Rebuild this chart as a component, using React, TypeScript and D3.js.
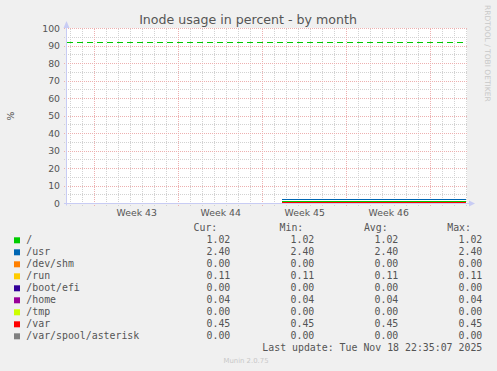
import { useEffect, useRef } from "react";
import * as d3 from "d3";

// legend / series
const seriesNames = [
  "/",
  "/usr",
  "/dev/shm",
  "/run",
  "/boot/efi",
  "/home",
  "/tmp",
  "/var",
  "/var/spool/asterisk",
];
const seriesColors = [
  "#00CC00",
  "#0066B3",
  "#FF8000",
  "#FFCC00",
  "#330099",
  "#990099",
  "#CCFF00",
  "#FF0000",
  "#808080",
];
const curValues = [1.02, 2.4, 0.0, 0.11, 0.0, 0.04, 0.0, 0.45, 0.0];
const minValues = [1.02, 2.4, 0.0, 0.11, 0.0, 0.04, 0.0, 0.45, 0.0];
const avgValues = [1.02, 2.4, 0.0, 0.11, 0.0, 0.04, 0.0, 0.45, 0.0];
const maxValues = [1.02, 2.4, 0.0, 0.11, 0.0, 0.04, 0.0, 0.45, 0.0];

// samples: data only exists from early November on (value stays flat)
const sampleTimes = ["2025-11-04T14:36:00Z", "2025-11-19T22:36:00Z"];

const warningLevel = 92;
const yTicks = [0, 10, 20, 30, 40, 50, 60, 70, 80, 90, 100];
const yMinorTicks = [5, 15, 25, 35, 45, 55, 65, 75, 85, 95];

// graph window (one month view, 400px)
const graphEnd = "2025-11-20T00:36:00Z";
const graphHours = 800;

const title = "Inode usage in percent - by month";
const lastUpdate = "Last update: Tue Nov 18 22:35:07 2025";

const App = () => {
  const svgRef = useRef<SVGSVGElement>(null);

  useEffect(() => {
    if (!svgRef.current) return;
    const width = 497;
    const height = 371;
    const left = 67;
    const right = 467;
    const top = 28.5;
    const bottom = 203.5;
    const textColor = "#555";
    const sans = "'DejaVu Sans', sans-serif";
    const mono = "'DejaVu Sans Mono', monospace";

    const svg = d3.select(svgRef.current);
    svg.selectAll("*").remove();
    svg.attr("width", width).attr("height", height);

    const end = new Date(graphEnd);
    const start = new Date(end.getTime() - graphHours * 3600 * 1000);

    const x = d3.scaleUtc().domain([start, end]).range([left, right]);
    const y = d3.scaleLinear().domain([0, 100]).range([bottom, top]);
    const px = (v: number) => Math.floor(v) + 0.5;

    svg.append("rect").attr("width", width).attr("height", height).attr("fill", "#F0F0F0");
    svg
      .append("rect")
      .attr("x", left)
      .attr("y", 28)
      .attr("width", right - left)
      .attr("height", 175)
      .attr("fill", "#FFFFFF");

    const grid = svg
      .append("g")
      .attr("stroke-dasharray", "1,1")
      .attr("stroke-width", 1)
      .attr("shape-rendering", "crispEdges");

    // minor grid
    const days = d3.utcDay.range(d3.utcDay.ceil(start), end);
    grid
      .selectAll("line.vmin")
      .data(days)
      .join("line")
      .attr("x1", (d) => px(x(d)))
      .attr("x2", (d) => px(x(d)))
      .attr("y1", top)
      .attr("y2", bottom + 2)
      .attr("stroke", "#D2D2D2");
    grid
      .selectAll("line.hmin")
      .data(yMinorTicks)
      .join("line")
      .attr("x1", left - 3)
      .attr("x2", right + 1)
      .attr("y1", (d) => px(y(d)))
      .attr("y2", (d) => px(y(d)))
      .attr("stroke", "#D2D2D2");

    // major grid
    const weeks = d3.utcMonday.range(d3.utcMonday.ceil(start), end);
    grid
      .selectAll("line.vmaj")
      .data(weeks)
      .join("line")
      .attr("x1", (d) => px(x(d)))
      .attr("x2", (d) => px(x(d)))
      .attr("y1", top)
      .attr("y2", bottom + 3)
      .attr("stroke", "#EDB0B0");
    grid
      .selectAll("line.hmaj")
      .data(yTicks)
      .join("line")
      .attr("x1", left - 3)
      .attr("x2", right + 1)
      .attr("y1", (d) => px(y(d)))
      .attr("y2", (d) => px(y(d)))
      .attr("stroke", "#EDB0B0");

    // y labels
    svg
      .append("g")
      .selectAll("text")
      .data(yTicks)
      .join("text")
      .attr("x", 60)
      .attr("y", (d) => y(d) + 3.3)
      .attr("text-anchor", "end")
      .style("font", `9.3px ${sans}`)
      .attr("fill", textColor)
      .text((d) => d);

    // week labels (centred in each week)
    const weekMids = d3.utcMonday
      .range(d3.utcMonday.floor(start), end)
      .map((d) => new Date(d.getTime() + 3.5 * 86400000))
      .filter((d) => d > start && d < end);
    const fmt = d3.utcFormat("Week %V");
    svg
      .append("g")
      .selectAll("text")
      .data(weekMids)
      .join("text")
      .attr("x", (d) => x(d))
      .attr("y", 215.6)
      .attr("text-anchor", "middle")
      .style("font", `9.3px ${sans}`)
      .attr("fill", textColor)
      .text((d) => fmt(d));

    // warning line
    svg
      .append("line")
      .attr("x1", left)
      .attr("x2", right)
      .attr("y1", px(y(warningLevel)))
      .attr("y2", px(y(warningLevel)))
      .attr("stroke", "#00CC00")
      .attr("stroke-width", 1.2)
      .attr("stroke-dasharray", "6,4");

    // series lines
    const line = d3
      .line<{ t: Date; v: number }>()
      .x((d) => x(d.t))
      .y((d) => px(y(d.v)));
    seriesNames.forEach((name, i) => {
      const pts = sampleTimes.map((t) => ({ t: new Date(t), v: curValues[i] }));
      svg
        .append("path")
        .datum(pts)
        .attr("d", line)
        .attr("fill", "none")
        .attr("stroke", seriesColors[i])
        .attr("stroke-width", 1.2)
        .attr("shape-rendering", "crispEdges");
    });

    // axes
    const axisColor = "#C8CCF4";
    svg
      .append("line")
      .attr("x1", 66.5)
      .attr("x2", 66.5)
      .attr("y1", 24)
      .attr("y2", bottom + 2)
      .attr("stroke", axisColor);
    svg
      .append("line")
      .attr("x1", left - 3)
      .attr("x2", right + 3)
      .attr("y1", bottom)
      .attr("y2", bottom)
      .attr("stroke", axisColor);
    svg.append("path").attr("d", "M63.5,28 L66.5,21 L69.5,28 Z").attr("fill", axisColor);
    svg
      .append("path")
      .attr("d", `M${right + 2},200.5 L${right + 8},203.5 L${right + 2},206.5 Z`)
      .attr("fill", axisColor);

    // title
    svg
      .append("text")
      .attr("x", 248)
      .attr("y", 24)
      .attr("text-anchor", "middle")
      .style("font", `12.6px ${sans}`)
      .attr("fill", textColor)
      .text(title);

    svg
      .append("text")
      .attr("transform", "translate(14,116) rotate(-90)")
      .attr("text-anchor", "middle")
      .style("font", `9.3px ${sans}`)
      .attr("fill", textColor)
      .text("%");

    svg
      .append("text")
      .attr("transform", "translate(485,5) rotate(90)")
      .style("font", `7.5px ${sans}`)
      .attr("fill", "#C8C8C8")
      .text("RRDTOOL / TOBI OETIKER");

    // legend
    const legend = svg.append("g").style("font", `9.9px ${mono}`).attr("fill", textColor);
    const headers = [
      { t: "Cur:", x: 217.3 },
      { t: "Min:", x: 303.3 },
      { t: "Avg:", x: 387.7 },
      { t: "Max:", x: 471 },
    ];
    headers.forEach((h) =>
      legend.append("text").attr("x", h.x).attr("y", 231).attr("text-anchor", "end").text(h.t)
    );
    const cols = [
      { vals: curValues, x: 230.3 },
      { vals: minValues, x: 314.3 },
      { vals: avgValues, x: 398.3 },
      { vals: maxValues, x: 482.3 },
    ];
    seriesNames.forEach((name, i) => {
      const base = 243.3 + i * 12;
      legend
        .append("rect")
        .attr("x", 14)
        .attr("y", base - 6)
        .attr("width", 6)
        .attr("height", 6)
        .attr("fill", seriesColors[i]);
      legend.append("text").attr("x", 26.3).attr("y", base).text(name);
      cols.forEach((c) =>
        legend
          .append("text")
          .attr("x", c.x)
          .attr("y", base)
          .attr("text-anchor", "end")
          .text(c.vals[i].toFixed(2))
      );
    });
    legend
      .append("text")
      .attr("x", 482.3)
      .attr("y", 351.3)
      .attr("text-anchor", "end")
      .text(lastUpdate);

    svg
      .append("text")
      .attr("x", 246)
      .attr("y", 362.7)
      .attr("text-anchor", "middle")
      .style("font", `6.9px ${sans}`)
      .attr("fill", "#C8C8C8")
      .text("Munin 2.0.75");
  }, []);

  return (
    <div style={{ position: "absolute", left: 0, top: 0 }}>
      <svg ref={svgRef} style={{ display: "block" }}></svg>
    </div>
  );
};

export default App;
